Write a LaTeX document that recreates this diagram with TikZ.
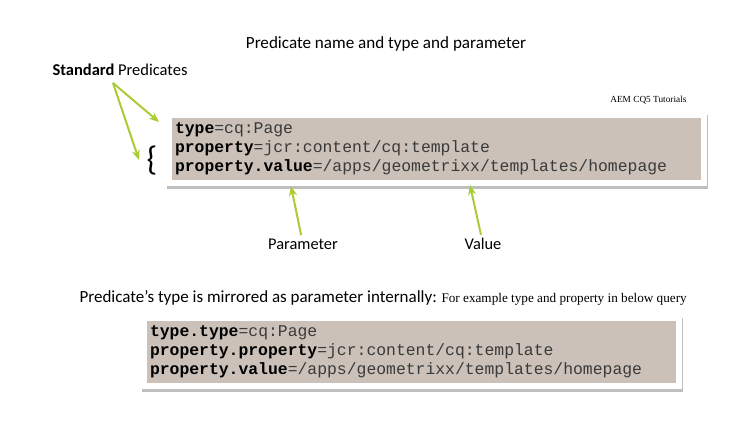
\documentclass[tikz,border=0pt]{standalone}
\usepackage{fontspec}
\setmainfont{Carlito}
\setmonofont{Liberation Mono}
\newfontfamily\notefont{Liberation Serif}
\usetikzlibrary{arrows.meta,positioning,fit,backgrounds,shadows}
\definecolor{codegrey}{HTML}{CBC1B8}
\definecolor{codetext}{HTML}{3A3A3A}
\definecolor{arrowgreen}{HTML}{A9CC35}

\begin{document}
\begin{tikzpicture}[
  x=1pt, y=-1pt,
  code/.style={rectangle, fill=codegrey, text=codetext, text width=523pt, minimum height=62pt, inner xsep=3pt, align=left, font=\fontsize{16.4}{19}\selectfont\ttfamily},
  key/.style={},
  frame/.style={rectangle, fill=white, inner sep=6pt, drop shadow={shadow xshift=1pt, shadow yshift=-3pt, opacity=0.5}},
  lbl/.style={font=\fontsize{16.4}{19}\selectfont},
  arr/.style={-{Stealth[length=10pt,width=8pt]}, line width=2pt, draw=arrowgreen}
]
  \begin{scope}[on background layer]
    \fill[white] (0,0) rectangle (748,421);
  \end{scope}
  \useasboundingbox (0,0) rectangle (748,421);

  \node[font=\fontsize{17.1}{20}\selectfont] (title) at (386,44) {Predicate name and type and parameter};
  \node[font=\fontsize{16.5}{19}\selectfont, anchor=west] (stdlbl) at (49,70) {\textbf{Standard} Predicates};
  \node[font=\notefont\fontsize{9.3}{11}\selectfont, anchor=east] (aemlbl) at (690,100) {AEM CQ5 Tutorials};

  % first query
  \node[code] (query1) at (436.5,149) {\textcolor{black}{\textbf{type}}=cq:Page\\
    \textcolor{black}{\textbf{property}}=jcr:content/cq:template\\
    \textcolor{black}{\textbf{property.value}}=/apps/geometrixx/templates/homepage};
  \begin{scope}[on background layer]
    \node[frame, fit=(query1)] (frame1) {};
  \end{scope}
  \node[font=\fontsize{34}{34}\selectfont] (brace) at (152,161) {\{};

  \node[lbl] (paramlbl) at (303,244) {Parameter};
  \node[lbl] (valuelbl) at (483,244) {Value};

  \coordinate (stdfoot) at (113,83);
  \coordinate (typetip) at (159,122);
  \coordinate (bracetip) at (139,160);
  \coordinate (paramtip) at (291,186);
  \coordinate (valuetip) at (470,185);

  \draw[arr] (stdfoot) -- (typetip);
  \draw[arr] (stdfoot) -- (bracetip);
  \draw[arr] (paramlbl) -- (paramtip);
  \draw[arr] (valuelbl) -- (valuetip);

  % second query
  \node[font=\fontsize{17}{20}\selectfont, anchor=base west] (note) at (76,302) {Predicate’s type is mirrored as parameter internally:};
  \node[font=\notefont\fontsize{13.2}{15}\selectfont, anchor=base west, inner xsep=1pt] (notetail) at (note.base east) {For example type and property in below query};

  \node[code] (query2) at (411.5,352) {\textcolor{black}{\textbf{type.type}}=cq:Page\\
    \textcolor{black}{\textbf{property.property}}=jcr:content/cq:template\\
    \textcolor{black}{\textbf{property.value}}=/apps/geometrixx/templates/homepage};
  \begin{scope}[on background layer]
    \node[frame, fit=(query2)] (frame2) {};
  \end{scope}
\end{tikzpicture}
\end{document}
